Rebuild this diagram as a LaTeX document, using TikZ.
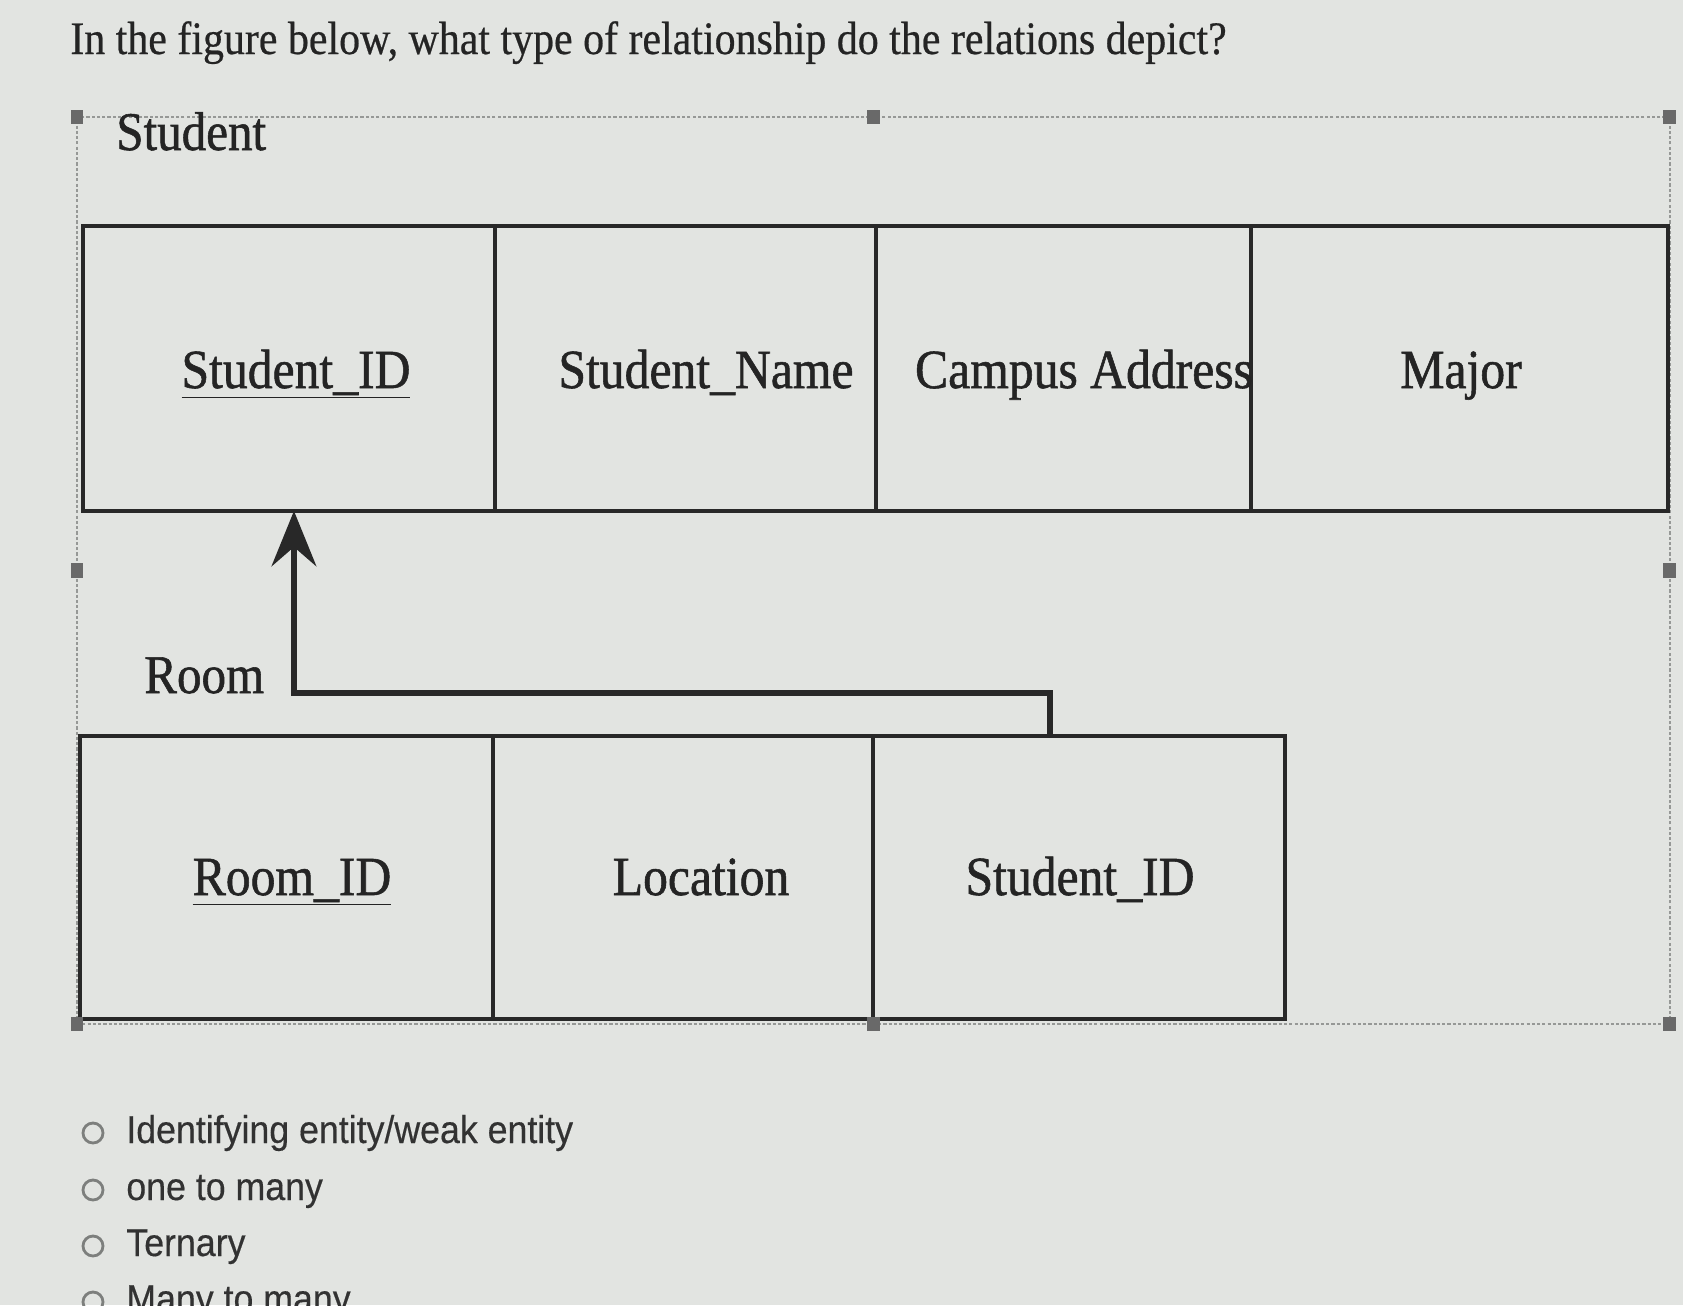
\documentclass[tikz,border=0pt]{standalone}
\usepackage{fontspec}
\setmainfont[FakeStretch=0.9]{Liberation Serif}
\newfontfamily\tabfont[FakeStretch=0.9,FakeBold=1.0]{Liberation Serif}
\newfontfamily\qfont[FakeStretch=0.9,FakeBold=0.5]{Liberation Serif}
\newfontfamily\optfont[FakeStretch=0.92,FakeBold=0.4]{Liberation Sans}
\usetikzlibrary{arrows.meta,calc}
\definecolor{bgc}{RGB}{226,228,225}
\definecolor{inkc}{RGB}{36,36,36}
\definecolor{linec}{RGB}{40,40,40}
\definecolor{dashc}{RGB}{150,152,150}
\definecolor{handlec}{RGB}{105,105,105}
\definecolor{optc}{RGB}{50,50,50}
\definecolor{radioc}{RGB}{125,127,125}
\begin{document}
\begin{tikzpicture}[x=0.02cm, y=-0.02cm,
  scell/.style={draw=linec, line width=2.2pt, inner sep=0pt, outer sep=0pt, anchor=north west, minimum height=5.70cm},
  rcell/.style={draw=linec, line width=2.2pt, inner sep=0pt, outer sep=0pt, anchor=north west, minimum height=5.66cm},
  ctext/.style={font=\tabfont\fontsize{31.4}{36}\selectfont, text=inkc, inner sep=0pt, anchor=base},
  qtext/.style={font=\qfont\fontsize{26.5}{30}\selectfont, text=inkc, inner sep=0pt, anchor=base west},
  lbl/.style={font=\tabfont\fontsize{31}{36}\selectfont, text=inkc, inner sep=0pt, anchor=base west},
  otext/.style={font=\optfont\fontsize{22.1}{26}\selectfont, text=optc, inner sep=0pt, anchor=base west},
  radio/.style={circle, draw=radioc, line width=1.6pt, minimum size=0.40cm, inner sep=0pt},
  handle/.style={fill=handlec, minimum width=0.25cm, minimum height=0.29cm, inner sep=0pt},
  selbox/.style={draw=dashc, line width=1.2pt, dash pattern=on 1.8pt off 1.2pt, inner sep=0pt, outer sep=0pt, anchor=north west},
  fk/.style={draw=linec, line width=3.2pt, -{Stealth[length=31.5pt, width=25.5pt, inset=11pt]}},
]
\useasboundingbox (0,0) rectangle (1683,1305);
\clip (0,0) rectangle (1683,1305);
\fill[bgc] (0,0) rectangle (1683,1305);

% question
\node[qtext] (q) at (70,54) {In the figure below, what type of relationship do the relations depict?};

% selection frame
\node[selbox, minimum width=31.86cm, minimum height=18.14cm] (sel) at (77,117) {};

% Student relation
\node[lbl] (lstudent) at (116,150) {Student};
\node[scell, minimum width=8.24cm] (sid) at (83,226) {};
\node[scell, minimum width=7.62cm] (sname) at (sid.north east) {};
\node[scell, minimum width=7.50cm] (saddr) at (sname.north east) {};
\node[scell, minimum width=8.34cm] (smajor) at (saddr.north east) {};
\node[ctext] (tsid) at (296,388) {\underline{Student\_ID}};
\node[ctext] (tsname) at (706,388) {Student\_Name};
\node[ctext] (tsaddr) at (1084,388) {Campus Address};
\node[ctext] (tsmajor) at (1461,388) {Major};

% Room relation
\node[lbl] (lroom) at (144,693) {Room};
\node[rcell, minimum width=8.26cm] (rid) at (80,736) {};
\node[rcell, minimum width=7.60cm] (rloc) at (rid.north east) {};
\node[rcell, minimum width=8.24cm] (rsid) at (rloc.north east) {};
\node[ctext] (trid) at (292,895) {\underline{Room\_ID}};
\node[ctext] (trloc) at (701,895) {Location};
\node[ctext] (trsid) at (1080,895) {Student\_ID};

% foreign key connector
\coordinate (bendy) at (0,693);
\coordinate (fkstart) at ($(rsid.north west)+(177,0)$);
\coordinate (fkend) at ($(sid.south)+(5,0)$);
\draw[fk] (fkstart) -- (fkstart |- bendy) -| (fkend);

% selection handles
\node[handle] (h1) at (sel.north west) {};
\node[handle] (h2) at (sel.north) {};
\node[handle] (h3) at (sel.north east) {};
\node[handle] (h4) at (sel.west) {};
\node[handle] (h5) at (sel.east) {};
\node[handle] (h6) at (sel.south west) {};
\node[handle] (h7) at (sel.south) {};
\node[handle] (h8) at (sel.south east) {};

% answer options
\node[radio] (r1) at (93,1133) {};
\node[otext] (o1) at (126,1143) {Identifying entity/weak entity};
\node[radio] (r2) at (93,1190) {};
\node[otext] (o2) at (126,1200) {one to many};
\node[radio] (r3) at (93,1246) {};
\node[otext] (o3) at (126,1256) {Ternary};
\node[radio] (r4) at (93,1302) {};
\node[otext] (o4) at (126,1312) {Many to many};
\end{tikzpicture}
\end{document}
